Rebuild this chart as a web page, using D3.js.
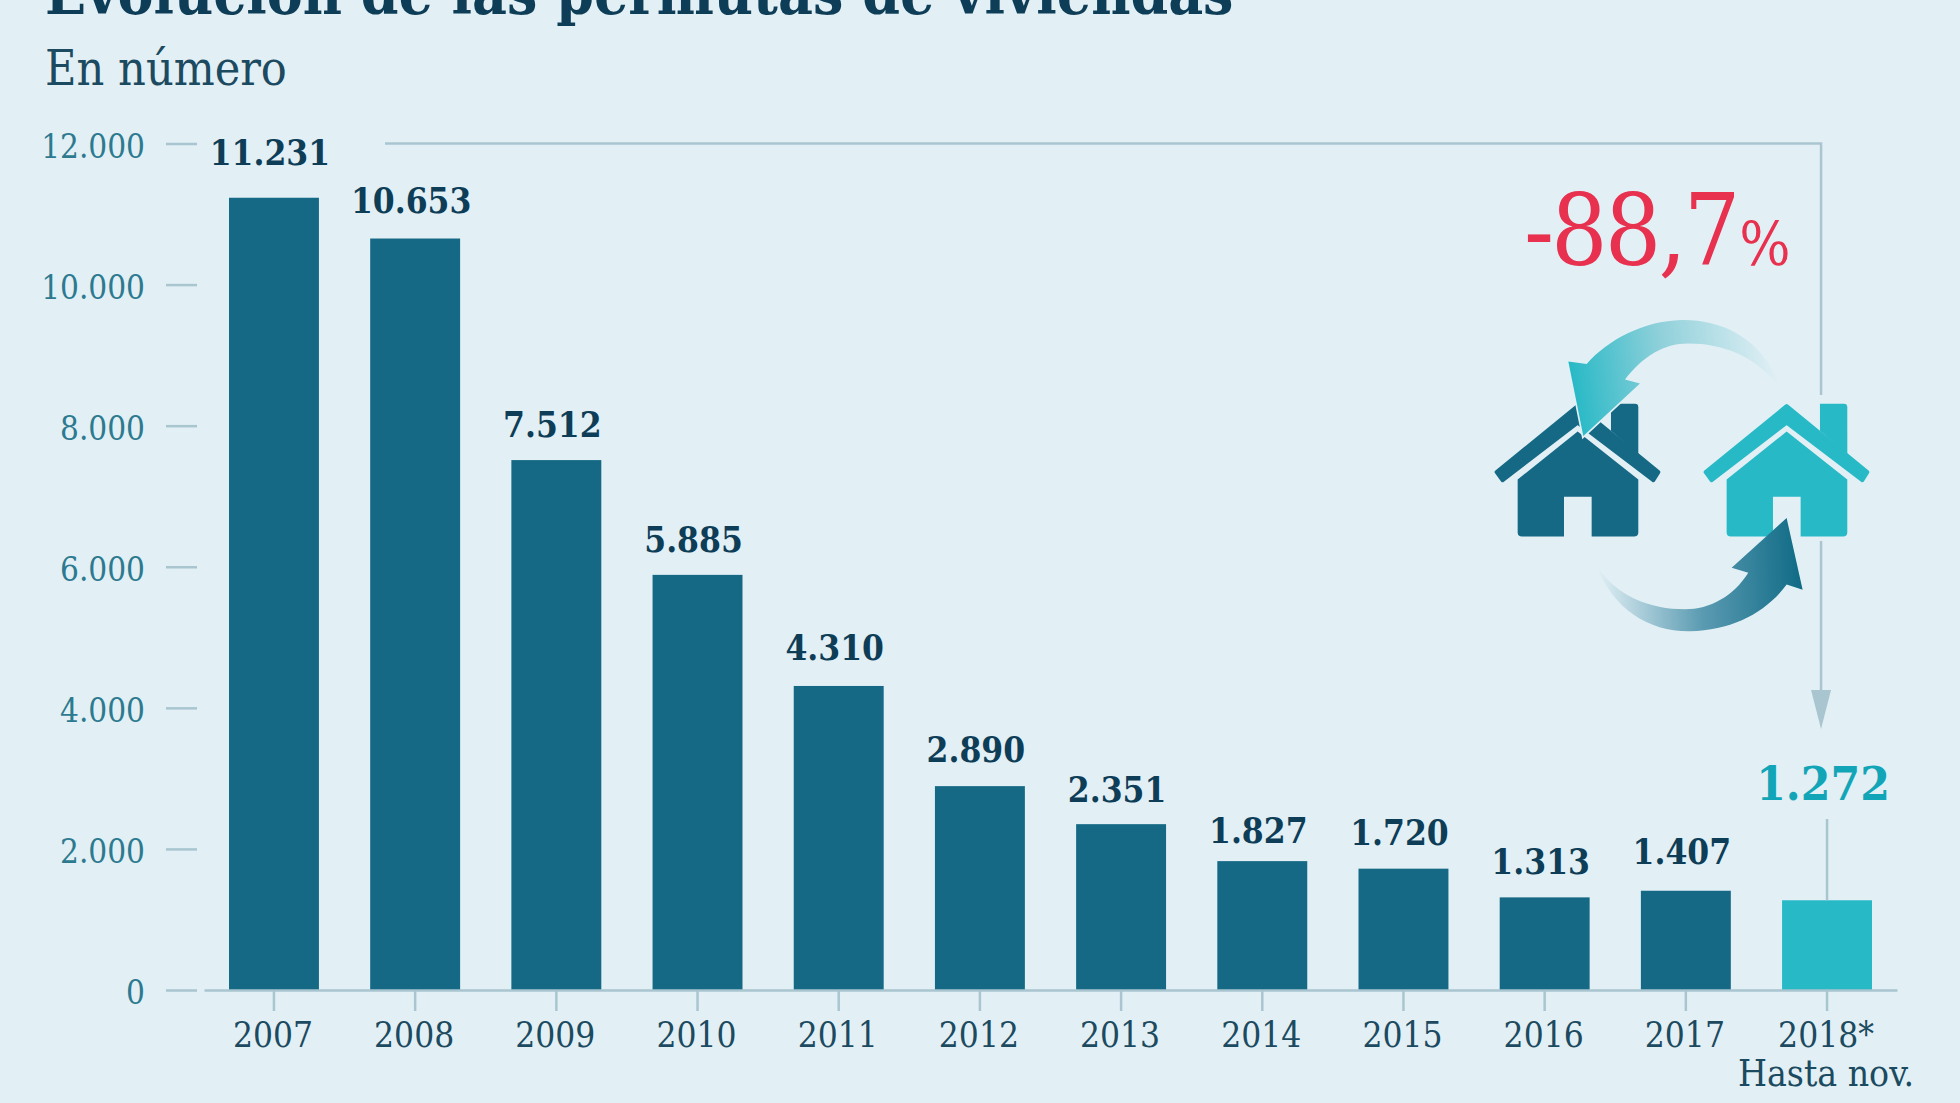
<!DOCTYPE html>
<html><head><meta charset="utf-8">
<script src="https://cdn.jsdelivr.net/npm/d3@7"></script>
<style>
html,body{margin:0;padding:0;background:#e2f0f5;overflow:hidden}
svg{display:block}
text{font-family:"DejaVu Serif Condensed","DejaVu Serif",serif}
</style></head><body><svg id="c" width="1960" height="1103"></svg>
<script>
const years=["2007","2008","2009","2010","2011","2012","2013","2014","2015","2016","2017","2018*"];
const values=[11231,10653,7512,5885,4310,2890,2351,1827,1720,1313,1407,1272];
const yTicks=[0,2000,4000,6000,8000,10000,12000];
const titleText="Evolución de las permutas de viviendas";
const subtitleText="En número";
const changeText="-88,7";
const footText="Hasta nov.";

const BG="#e2f0f5",DARK="#156985",TEAL="#27b9c6",INK="#0e3d57",LINE="#a9c5cf";
const labelLift=[33,26,23,23,26,24,22,18,24,23,27,0];

const svg=d3.select("#c");
const loc=d3.formatLocale({decimal:",",thousands:".",grouping:[3],currency:["","€"]});
const fmt=loc.format(",d");
const x=d3.scaleBand().domain(years).range([204,1897]).paddingInner(.363).paddingOuter(.177);
const y=d3.scaleLinear().domain([0,12000]).range([990,143.5]);

svg.append("text").attr("x",45).attr("y",14).attr("font-size",60).attr("font-weight",700).attr("fill",INK).text(titleText);
svg.append("text").attr("x",45).attr("y",85).attr("font-size",48).attr("fill","#1c4a60").text(subtitleText);

const ya=svg.append("g").attr("transform","translate(197,0)").call(d3.axisLeft(y).tickValues(yTicks).tickSize(31).tickPadding(21).tickFormat(fmt));
ya.select(".domain").remove();
ya.selectAll("line").attr("stroke",LINE).attr("stroke-width",2.5);
ya.selectAll("text").attr("font-size",33).attr("fill","#2d7a90").attr("dy","0.42em");

const top0=y(12000);
const lx=x("2018*")+x.bandwidth()/2-6;
const head=729;
svg.append("path").attr("fill","none").attr("stroke",LINE).attr("stroke-width",2.5)
 .attr("d",d3.line()([[385,top0],[lx,top0],[lx,395]]));
svg.append("path").attr("fill","none").attr("stroke",LINE).attr("stroke-width",2.5)
 .attr("d",d3.line()([[lx,541],[lx,head-30]]));
svg.append("path").attr("fill",LINE).attr("d",d3.line()([[lx-10,head-39],[lx+10,head-39],[lx,head]])+"Z");

svg.selectAll("rect.b").data(values).join("rect").attr("class","b")
 .attr("x",(d,i)=>x(years[i])).attr("width",x.bandwidth())
 .attr("y",d=>y(d)).attr("height",d=>y(0)-y(d))
 .attr("fill",(d,i)=>i===values.length-1?TEAL:DARK);

const xa=svg.append("g").attr("transform","translate(0,990)").call(d3.axisBottom(x).tickSize(21).tickSizeOuter(0).tickPadding(11));
xa.select(".domain").attr("stroke",LINE).attr("stroke-width",2.5);
xa.selectAll("line").attr("stroke",LINE).attr("stroke-width",2.5);
xa.selectAll("text").attr("font-size",35).attr("fill","#1c4a60").attr("dx",-1);

const cx=x("2018*")+x.bandwidth()/2;
svg.append("line").attr("x1",cx).attr("x2",cx).attr("y1",819).attr("y2",y(1272)).attr("stroke",LINE).attr("stroke-width",2.5);
svg.append("text").attr("x",cx-1).attr("y",1086).attr("text-anchor","middle").attr("font-size",37).attr("fill","#1c4a60").text(footText);

svg.selectAll("text.v").data(values.slice(0,-1)).join("text").attr("class","v")
 .attr("x",(d,i)=>x(years[i])+x.bandwidth()/2-4).attr("y",(d,i)=>y(d)-labelLift[i])
 .attr("text-anchor","middle").attr("font-size",35).attr("font-weight",700).attr("fill",INK).text(fmt);
svg.append("text").attr("x",cx-4).attr("y",800).attr("text-anchor","middle").attr("font-size",47.5).attr("font-weight",700).attr("fill","#12a5b8").text(fmt(1272));

const t=svg.append("text").attr("x",1524).attr("y",265).attr("fill","#e8304f").attr("font-size",99);
t.append("tspan").attr("letter-spacing",-3).text(changeText);
t.append("tspan").attr("font-size",60).attr("dx",2).text("%");

// icon, traced in a local frame
const defs=svg.append("defs");
function grad(id,p,stops){
 const g=defs.append("linearGradient").attr("id",id).attr("gradientUnits","userSpaceOnUse")
  .attr("x1",p[0]).attr("y1",p[1]).attr("x2",p[2]).attr("y2",p[3]);
 stops.forEach(s=>g.append("stop").attr("offset",s[0]).attr("stop-color",s[1]));
}
grad("ga",[400,800,1020,720],[[0,"#27b9c6"],[.45,"#8fd0da"],[1,BG]]);
grad("gb",[1090,1300,470,1330],[[0,"#0f6a85"],[.5,"#5b9bb2"],[1,BG]]);
const ic=svg.append("g").attr("transform","translate(1440,130) scale(0.3333,0.338)");
function house(dx,c){
 const g=ic.append("g").attr("transform",`translate(${dx},0)`).attr("fill",c);
 g.append("path").attr("d","M513,810H585Q595,810 595,820V960L513,890Z");
 g.append("path").attr("d","M233,1034L413,892L595,1034V1190Q595,1203 582,1203H455V1085H372V1203H246Q233,1203 233,1190Z");
 g.append("path").attr("stroke",c).attr("stroke-width",12).attr("stroke-linejoin","round")
  .attr("d","M170,1012L413,817L655,1012L640,1036L413,866L188,1036Z");
}
house(0,DARK);
house(627,TEAL);
ic.append("path").attr("fill","url(#ga)").attr("stroke",BG).attr("stroke-width",10).attr("paint-order","stroke")
 .attr("d","M1018,750C960,610 840,560 725,562C610,565 505,620 440,692L385,685L430,905L600,750L555,738C610,670 670,632 745,632C850,632 940,670 1005,745Z");
ic.append("path").attr("fill","url(#gb)")
 .attr("d","M470,1290C520,1420 630,1485 750,1483C880,1480 980,1425 1040,1345L1088,1360L1040,1148L875,1295L925,1310C880,1380 810,1418 735,1418C630,1418 530,1380 470,1290Z");
</script></body></html>
